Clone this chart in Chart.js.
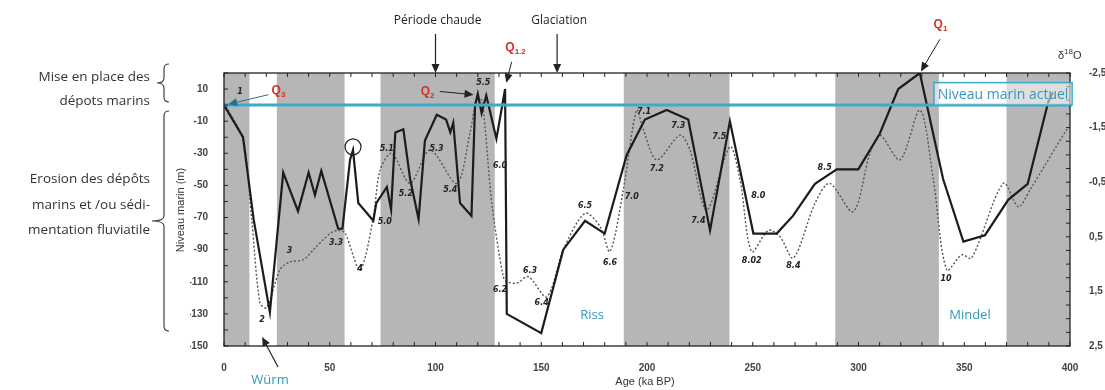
<!DOCTYPE html>
<html>
<head>
<meta charset="utf-8">
<script src="https://cdn.jsdelivr.net/npm/chart.js@4.4.1/dist/chart.umd.min.js"></script>
<style>
    html, body { margin: 0; padding: 0; background: #fff; }
    #wrap { width: 1105px; height: 390px; position: relative; }
</style>
</head>
<body>
<div id="wrap"><canvas id="chart"></canvas></div>
<script>
// niveau marin (m), trait plein
const seaAge = [0, 9, 14, 21.7, 28, 35, 40, 43, 46, 54, 56, 59.6, 61, 63.5, 70.6, 72, 77, 79, 81, 84.8, 88, 92, 95, 100.6, 105, 107, 108.4, 111.6, 117, 118.7, 120, 121.8, 124, 128.8, 132.9, 133.7, 150, 160.4, 170.7, 180, 190.4, 199, 209.3, 219.5, 229.8, 239.2, 250.3, 261.3, 269, 279.4, 289.7, 299.9, 310, 318.8, 329, 340, 349.6, 359.8, 370.8, 380, 389.7, 392];
const seaLevel = [0, -20, -71, -129, -42, -66, -42, -56, -41, -77, -77, -34, -28, -61, -72, -61, -51, -65, -17, -15, -46, -71, -22, -6, -9, -17, -11, -61, -69, 0, 7, -5, 6, -21, 10, -130, -142, -90, -72, -80, -31, -9, -3, -9, -78, -10, -80, -80, -69, -49, -40, -40, -18, 10, 20, -46, -85, -81, -59, -49, 2, 8];

// delta 18O, pointillé
const isoAge = [0, 9, 13.1, 17, 20.2, 26.5, 31.2, 37.5, 42.2, 50.1, 54, 57.2, 64.3, 70.4, 73.8, 79.3, 88, 97.4, 110, 116.3, 119.5, 122, 126.6, 132, 133.7, 138.4, 143.9, 152.6, 160.4, 170.7, 177.8, 182.5, 188.8, 195.1, 198.3, 204.6, 215.6, 220.3, 228.2, 239.2, 244, 249.5, 257.4, 262.9, 269.2, 279.4, 286.3, 297.5, 305.4, 310.2, 319.6, 329.1, 335.4, 341.7, 348.8, 353.5, 368.5, 375.6, 381.1, 398.4, 400];
const isoValue = [-1.95, -1.27, 0.19, 1.71, 1.8, 1.1, 0.96, 0.92, 0.74, 0.44, 0.38, 0.43, 1.1, 0.19, -0.72, -1.03, -0.48, -1.09, -0.48, -1.4, -2.0, -2.0, -0.12, 1.23, 1.32, 1.35, 1.23, 1.6, 0.74, 0.07, 0.31, 0.77, -0.36, -1.82, -1.46, -0.91, -1.36, -1.09, 0.01, -1.15, -0.54, 0.77, 0.38, 0.5, 0.89, -0.11, -0.48, 0.04, -1.03, -1.36, -0.91, -1.82, -0.54, 1.11, 0.83, 0.89, -0.48, -0.05, -0.36, -1.46, -1.5];

// périodes chaudes (bandes grises), ka
const bandStart = [0, 25, 74, 189, 289, 370];
const bandEnd = [12, 57, 128, 239, 338, 400];

const xTickLabels = [0, 50, 100, 150, 200, 250, 300, 350, 400];
const levelTickLabels = [10, -10, -30, -50, -70, -90, -110, -130, -150];
const isoTickLabels = [-2.5, -1.5, -0.5, 0.5, 1.5, 2.5];

// numéros des stades isotopiques
const misText = ['1', '2', '3', '3.3', '4', '5.0', '5.1', '5.2', '5.3', '5.4', '5.5', '6.0', '6.2', '6.3', '6.4', '6.5', '6.6', '7.0', '7.1', '7.2', '7.3', '7.4', '7.5', '8.0', '8.02', '8.4', '8.5', '10'];
const misAge = [7.6, 18, 31, 53, 64.3, 76, 77, 86, 100.5, 107, 122.6, 130.5, 130.5, 144.7, 150.2, 170.7, 182.5, 192.8, 198.6, 204.6, 214.8, 224.3, 234.2, 252.6, 249.5, 269.2, 284, 341.4];
const misLevel = [8, -134, -91, -86, -102, -73, -27.5, -55, -27, -52.5, 14, -38, -115, -103.5, -123, -63, -98, -57, -4.5, -39.6, -12.9, -72, -20, -56.7, -97, -100, -39, -108];

const TEAL = 'rgb(56,172,200)';
const TEAL_TXT = 'rgb(52,150,190)';
const RED = 'rgb(210,50,40)';

function arrow(c, x1, y1, x2, y2, color, w) {
    const a = Math.atan2(y2 - y1, x2 - x1);
    c.save();
    c.strokeStyle = color;
    c.fillStyle = color;
    c.lineWidth = w;
    c.beginPath();
    c.moveTo(x1, y1);
    c.lineTo(x2 - 6 * Math.cos(a), y2 - 6 * Math.sin(a));
    c.stroke();
    c.beginPath();
    c.moveTo(x2, y2);
    c.lineTo(x2 - 9 * Math.cos(a) + 4 * Math.sin(a), y2 - 9 * Math.sin(a) - 4 * Math.cos(a));
    c.lineTo(x2 - 9 * Math.cos(a) - 4 * Math.sin(a), y2 - 9 * Math.sin(a) + 4 * Math.cos(a));
    c.closePath();
    c.fill();
    c.restore();
}

function qLabel(c, x, y, sub) {
    c.save();
    c.fillStyle = RED;
    c.font = 'bold 12px "Liberation Sans"';
    c.textAlign = 'left';
    c.textBaseline = 'middle';
    c.fillText('Q', x, y);
    const w = c.measureText('Q').width;
    c.font = 'bold 8px "Liberation Sans"';
    c.fillText(sub, x + w, y + 4);
    c.restore();
}

function brace(c, x, top, bottom, tipX) {
    const mid = (top + bottom) / 2;
    const r = 5;
    c.save();
    c.strokeStyle = '#444';
    c.lineWidth = 1.2;
    c.beginPath();
    c.moveTo(x + r, top);
    c.quadraticCurveTo(x, top, x, top + r);
    c.lineTo(x, mid - r);
    c.quadraticCurveTo(x, mid, tipX, mid);
    c.quadraticCurveTo(x, mid, x, mid + r);
    c.lineTo(x, bottom - r);
    c.quadraticCurveTo(x, bottom, x + r, bottom);
    c.stroke();
    c.restore();
}

const bandsPlugin = {
    id: 'bands',
    beforeDatasetsDraw(chart) {
        const { ctx: c, chartArea: a, scales: { x } } = chart;
        c.save();
        c.fillStyle = 'rgb(182,182,182)';
        bandStart.forEach((s, i) => {
            const x1 = x.getPixelForValue(s);
            const x2 = x.getPixelForValue(bandEnd[i]);
            c.fillRect(x1, a.top, x2 - x1, a.bottom - a.top);
        });
        c.restore();
    }
};

const framePlugin = {
    id: 'frame',
    afterDatasetsDraw(chart) {
        const { ctx: c, chartArea: a, scales: { x, y, y2 } } = chart;
        c.save();
        // niveau marin actuel
        const y0 = y.getPixelForValue(0);
        c.strokeStyle = TEAL;
        c.lineWidth = 3;
        c.beginPath();
        c.moveTo(a.left, y0);
        c.lineTo(a.right + 2, y0);
        c.stroke();

        c.strokeStyle = '#222';
        c.lineWidth = 1.3;
        c.strokeRect(a.left, a.top, a.right - a.left, a.bottom - a.top);
        c.lineWidth = 1;
        c.beginPath();
        for (let v = 0; v <= 400; v += 10) {
            const px = x.getPixelForValue(v);
            c.moveTo(px, a.bottom); c.lineTo(px, a.bottom - 4);
            c.moveTo(px, a.top); c.lineTo(px, a.top + 4);
        }
        for (let v = -150; v <= 20; v += 10) {
            const py = y.getPixelForValue(v);
            c.moveTo(a.left, py); c.lineTo(a.left + 4, py);
        }
        for (let v = -2.5; v <= 2.5; v += 0.25) {
            const py = y2.getPixelForValue(v);
            c.moveTo(a.right, py); c.lineTo(a.right - 4, py);
        }
        c.stroke();
        c.restore();
    }
};

const notesPlugin = {
    id: 'notes',
    afterDraw(chart) {
        const { ctx: c, chartArea: a, scales: { x, y } } = chart;
        const X = v => x.getPixelForValue(v);
        const Y = v => y.getPixelForValue(v);
        c.save();

        // stades isotopiques
        c.fillStyle = '#222';
        c.font = 'italic bold 8px "DejaVu Sans"';
        c.textAlign = 'center';
        c.textBaseline = 'middle';
        misText.forEach((t, i) => c.fillText(t, X(misAge[i]), Y(misLevel[i])));

        // cercle autour du pic
        c.strokeStyle = '#222';
        c.lineWidth = 1.2;
        c.beginPath();
        c.arc(X(61), Y(-26), 8, 0, Math.PI * 2);
        c.stroke();

        // cadre niveau marin actuel
        const bx1 = X(335.7), bx2 = X(401), by1 = Y(14), by2 = Y(0);
        c.fillStyle = 'rgba(255,255,255,0.55)';
        c.fillRect(bx1, by1, bx2 - bx1, by2 - by1);
        c.strokeStyle = TEAL;
        c.lineWidth = 1.5;
        c.strokeRect(bx1, by1, bx2 - bx1, by2 - by1);
        c.fillStyle = TEAL_TXT;
        c.font = '14px "Open Sans"';
        c.textAlign = 'center';
        c.fillText('Niveau marin actuel', (bx1 + bx2) / 2, (by1 + by2) / 2 + 1);

        // Q
        qLabel(c, X(22.5), Y(9), '3');
        arrow(c, X(21), Y(6.5), X(2), Y(0.5), 'rgb(40,110,140)', 1);
        qLabel(c, X(93), Y(8.5), '2');
        arrow(c, X(102), Y(8.5), X(118), Y(6.5), '#222', 1);
        qLabel(c, X(133), Y(36), '1.2');
        arrow(c, X(136), Y(27), X(133.5), Y(14), '#222', 1);
        qLabel(c, X(335.5), Y(50), '1');
        arrow(c, X(338.5), Y(41), X(329.5), Y(21), '#222', 1);

        // périodes
        c.fillStyle = '#222';
        c.font = '12px "Open Sans"';
        c.textAlign = 'center';
        c.fillText('Période chaude', X(101), 21);
        arrow(c, X(100), 34, X(100), a.top, '#222', 1.2);
        c.fillText('Glaciation', X(158.5), 21);
        arrow(c, X(157.5), 34, X(157.5), a.top, '#222', 1.2);

        // glaciations
        c.fillStyle = TEAL_TXT;
        c.font = '13px "Open Sans"';
        c.fillText('Riss', X(174), Y(-131));
        c.fillText('Mindel', X(352.7), Y(-131));
        c.fillText('Würm', 270, 380);
        arrow(c, 278, 367, X(18), a.bottom - 9, '#222', 1.2);

        // titres d'axes
        c.fillStyle = '#333';
        c.font = '11px "Liberation Sans"';
        c.fillText('Age (ka BP)', 645, 382);
        c.save();
        c.translate(181, 210);
        c.rotate(-Math.PI / 2);
        c.fillText('Niveau marin (m)', 0, 0);
        c.restore();
        c.textAlign = 'left';
        c.fillText('δ', 1058, 56);
        c.font = '8px "Liberation Sans"';
        c.fillText('18', 1064, 52);
        c.font = '11px "Liberation Sans"';
        c.fillText('O', 1073, 56);

        // légende de gauche
        c.fillStyle = '#333';
        c.font = '13.5px "Open Sans"';
        c.textAlign = 'right';
        c.fillText('Mise en place des', 150, 77);
        c.fillText('dépots marins', 150, 101);
        c.fillText('Erosion des dépôts', 150, 179);
        c.fillText('marins et /ou sédi-', 150, 205);
        c.fillText('mentation fluviatile', 150, 230);
        brace(c, 164, 64, 102, 157);
        brace(c, 164, 111, 331, 152);
        c.restore();
    }
};

const tickFont = { family: 'Liberation Sans', size: 10, weight: 'bold' };

new Chart(document.getElementById('chart'), {
    type: 'line',
    data: {
        datasets: [{
            label: 'Niveau marin',
            data: seaAge.map((a, i) => ({ x: a, y: seaLevel[i] })),
            borderColor: '#1c1c1c',
            borderWidth: 2.2,
            pointRadius: 0,
            tension: 0,
            yAxisID: 'y'
        }, {
            label: 'δ18O',
            data: isoAge.map((a, i) => ({ x: a, y: isoValue[i] })),
            borderColor: '#555',
            borderWidth: 1.4,
            borderDash: [2, 2],
            pointRadius: 0,
            tension: 0.3,
            yAxisID: 'y2'
        }]
    },
    options: {
        responsive: true,
        maintainAspectRatio: false,
        animation: false,
        layout: { padding: { left: 190, top: 73, right: 0, bottom: 0 } },
        plugins: { legend: { display: false }, tooltip: { enabled: false } },
        scales: {
            x: {
                type: 'linear',
                min: 0,
                max: 400,
                grid: { display: false },
                border: { display: false },
                afterFit: s => { s.height = 44; },
                ticks: {
                    stepSize: 10,
                    autoSkip: false,
                    maxRotation: 0,
                    padding: 8,
                    color: '#444',
                    font: tickFont,
                    callback: v => xTickLabels.includes(v) ? String(v) : ''
                }
            },
            y: {
                position: 'left',
                min: -150,
                max: 20,
                grid: { display: false },
                border: { display: false },
                afterFit: s => { s.width = 34; },
                afterBuildTicks: s => { s.ticks = levelTickLabels.map(v => ({ value: v })); },
                ticks: {
                    autoSkip: false,
                    padding: 8,
                    color: '#444',
                    font: tickFont,
                    callback: v => String(v)
                }
            },
            y2: {
                position: 'right',
                reverse: true,
                min: -2.5,
                max: 2.5,
                grid: { display: false },
                border: { display: false },
                afterFit: s => { s.width = 35; },
                afterBuildTicks: s => { s.ticks = isoTickLabels.map(v => ({ value: v })); },
                ticks: {
                    autoSkip: false,
                    padding: 11,
                    color: '#444',
                    font: tickFont,
                    callback: v => v.toFixed(1).replace('.', ',')
                }
            }
        }
    },
    plugins: [bandsPlugin, framePlugin, notesPlugin]
});
</script>
</body>
</html>
